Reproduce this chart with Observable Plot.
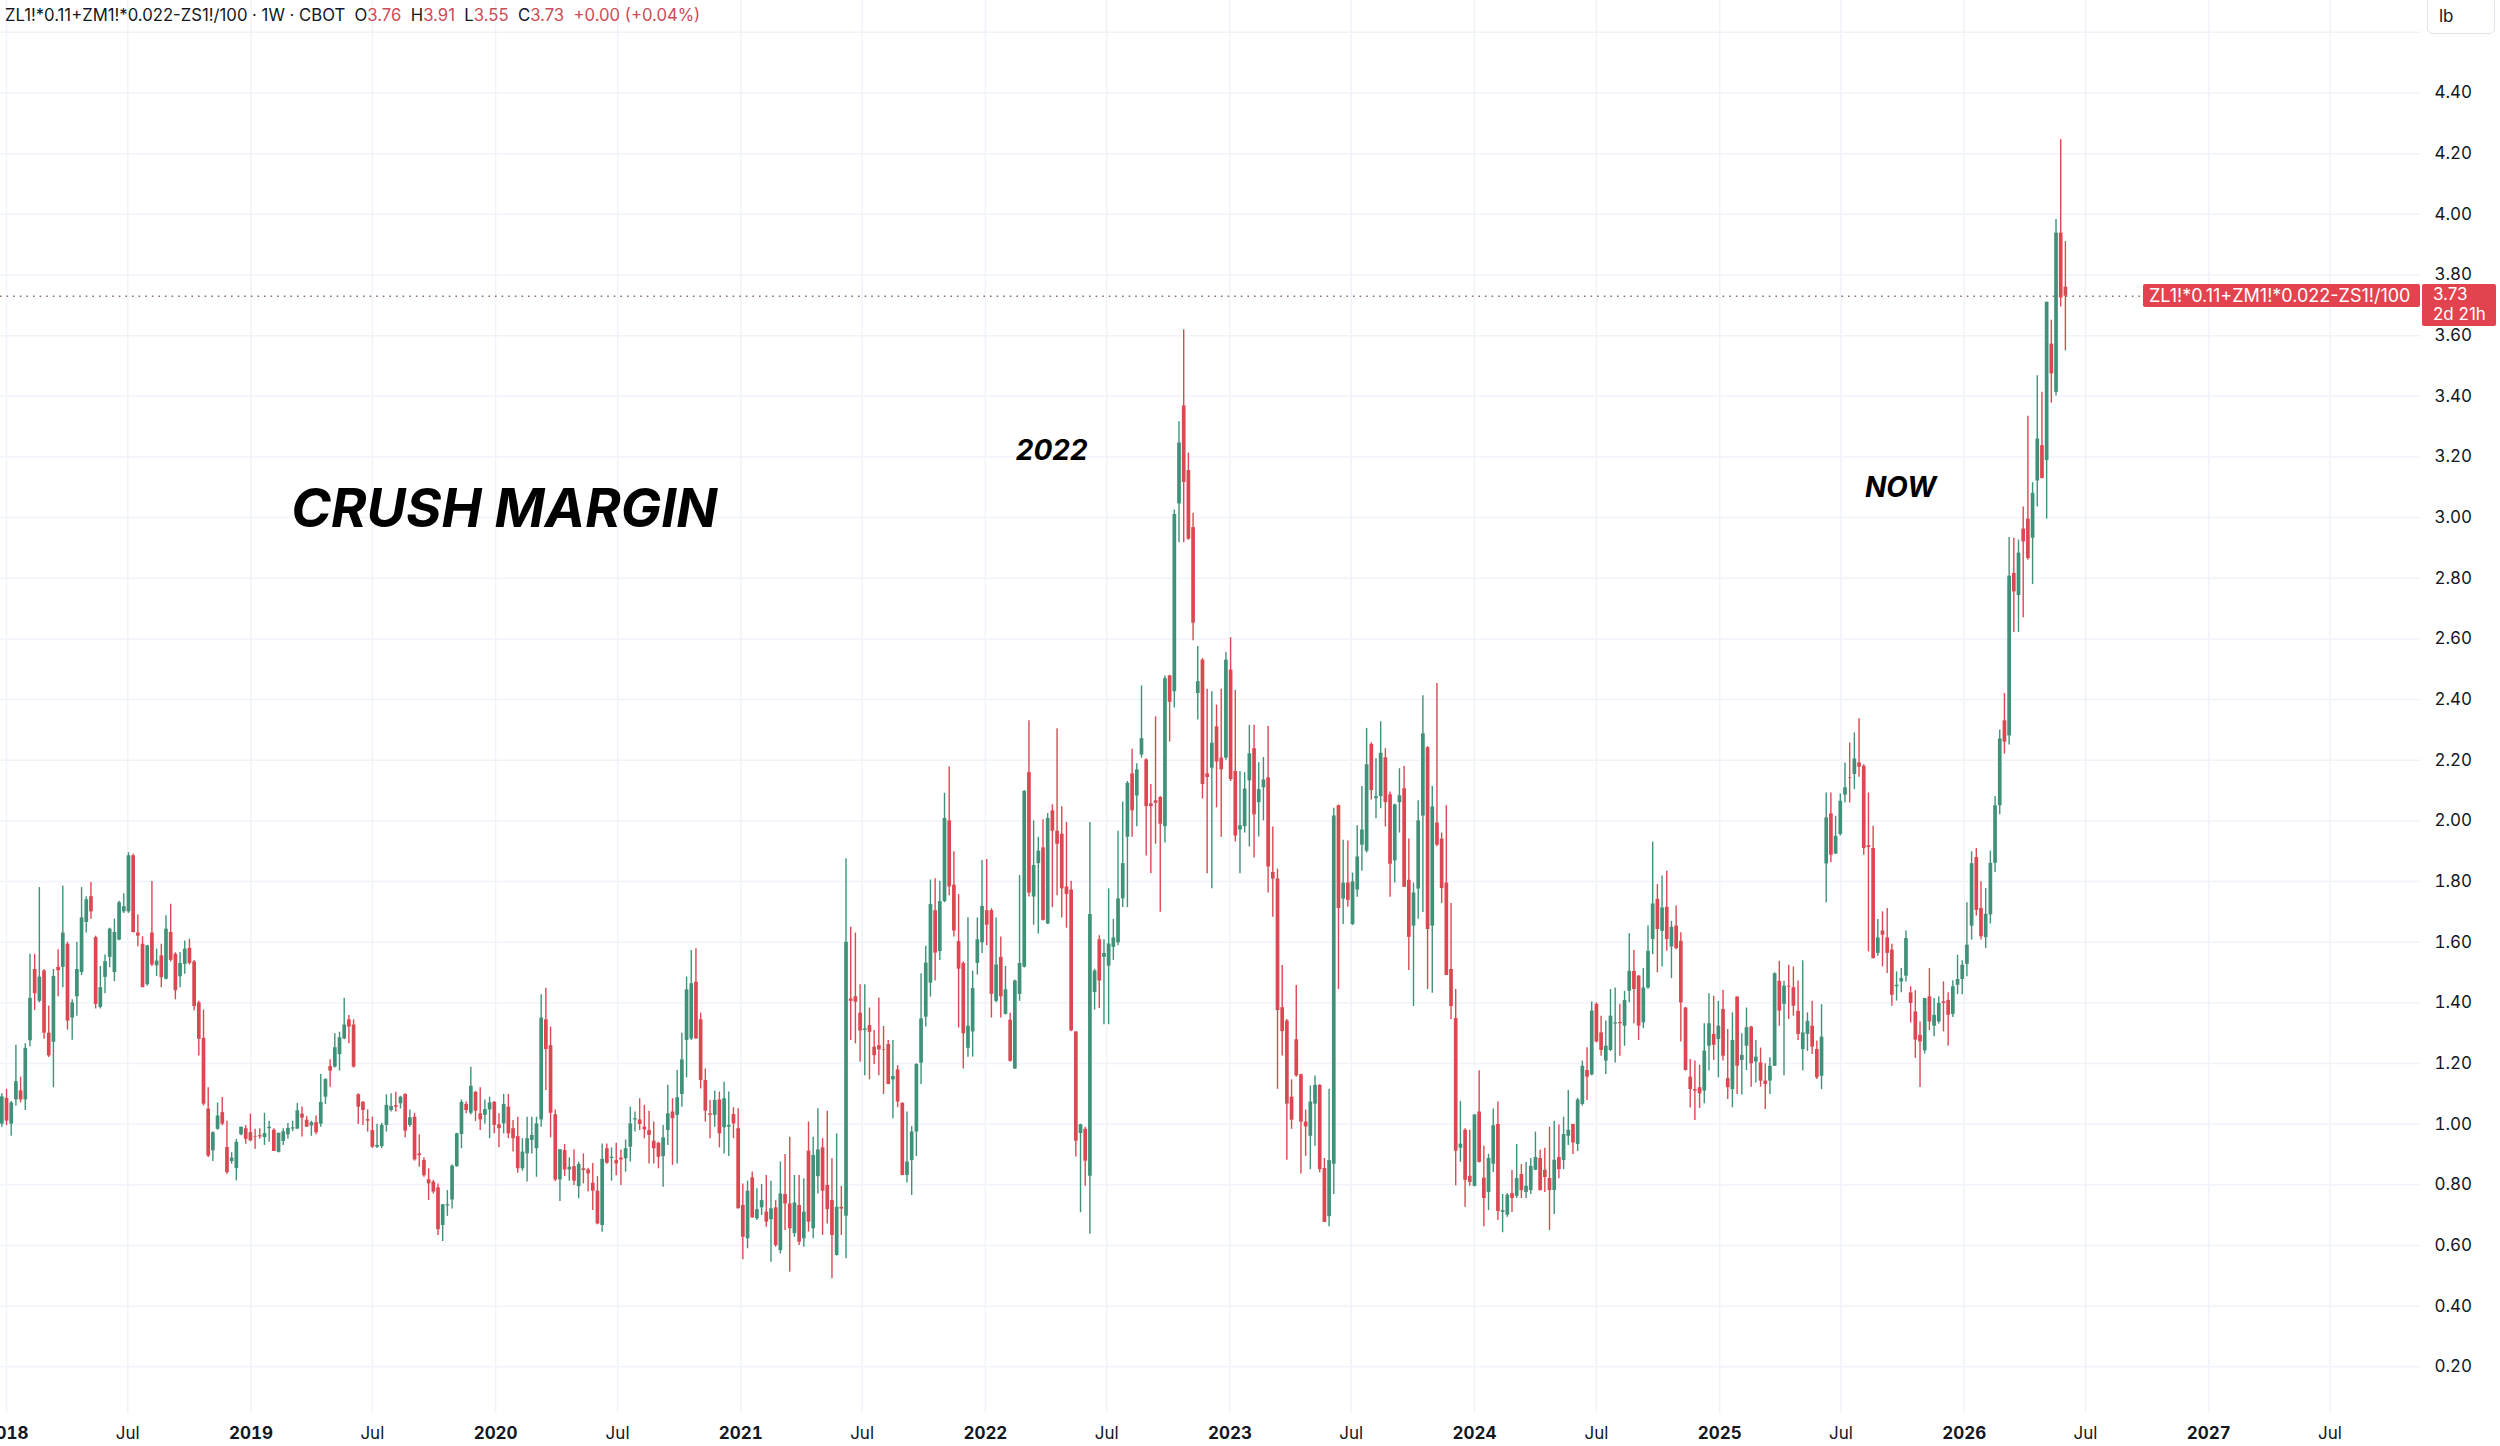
<!DOCTYPE html>
<html>
<head>
<meta charset="utf-8">
<script src="https://cdn.jsdelivr.net/npm/d3@7"></script>
<script src="https://cdn.jsdelivr.net/npm/@observablehq/plot@0.6"></script>
<style>
  html, body { margin: 0; padding: 0; background: #ffffff; }
  #wrap { position: relative; width: 2500px; height: 1446px; overflow: hidden; font-family: Inter, "Noto Sans", sans-serif; color: #131722; }
  #wrap svg { display: block; }
  .hdr { position: absolute; left: 5px; top: 5px; font-size: 16.7px; white-space: pre; color: #131722; }
  .hdr .v { color: #cc4b57; }
  .lbbox { position: absolute; left: 2427px; top: -4px; width: 68px; height: 38px; border: 1px solid #e0e3eb; border-radius: 6px; background: #fff; box-sizing: border-box; }
  .lbbox span { position: absolute; left: 11px; top: 9px; font-size: 17px; }
  .plabel { position: absolute; background: #e3434e; color: #fff; font-size: 17px; border-radius: 2px; box-sizing: border-box; white-space: pre; overflow: hidden; }
</style>
</head>
<body>
<div id="wrap"></div>
<script>
// ---- Data (weekly candles, first bar week of 2017-12-25) ----
const firstWeek = "2017-12-25";
const open = [
1.00,1.085,1.00,1.08,1.11,1.08,1.275,1.51,1.405,1.505,1.30,1.27,1.517,1.517,1.593,1.35,1.42,1.50,1.665,1.75,
1.615,1.385,1.484,1.55,1.50,1.607,1.70,1.70,1.885,1.63,1.593,1.46,1.63,1.522,1.555,1.478,1.632,1.56,1.486,1.527,
1.58,1.535,1.40,1.283,1.05,0.912,0.983,1.038,0.923,0.877,0.854,0.965,0.985,0.972,0.958,0.962,0.956,0.985,0.98,0.907,
0.943,0.965,0.984,0.984,1.033,1.013,0.994,1.005,1.00,1.089,1.19,1.188,1.229,1.281,1.344,1.327,1.097,1.072,1.015,0.979,
0.924,0.926,0.996,1.045,1.061,1.067,1.098,0.996,1.023,0.902,0.88,0.817,0.809,0.79,0.666,0.730,0.75,0.86,0.966,1.065,
1.036,1.105,1.034,1.029,1.047,1.072,0.998,1.001,1.056,0.985,0.959,0.853,0.902,0.946,0.919,1.014,1.344,1.259,1.031,0.816,
0.913,0.849,0.86,0.794,0.853,0.849,0.805,0.779,0.666,0.919,0.887,0.88,0.888,0.886,0.924,1.014,1.014,0.99,0.979,0.944,
0.937,0.893,0.979,1.040,1.029,1.098,1.276,1.281,1.468,1.344,1.144,1.034,1.029,1.08,0.988,0.99,1.032,0.985,0.732,0.622,
0.823,0.688,0.724,0.71,0.685,0.724,0.583,0.768,0.737,0.639,0.732,0.622,0.911,0.655,0.827,0.922,0.798,0.748,0.567,0.726,
0.696,1.413,1.42,1.366,1.309,1.325,1.254,1.259,1.245,1.263,1.146,1.179,1.069,0.831,0.88,0.974,1.201,1.353,1.465,1.704,
1.569,1.734,2.0,1.788,1.602,1.530,1.25,1.304,1.53,1.598,1.704,1.704,1.405,1.55,1.362,1.343,1.182,1.428,1.517,2.159,
1.749,1.859,1.911,1.66,2.033,1.966,1.956,1.782,1.772,1.304,0.969,0.983,0.828,1.434,1.608,1.55,1.521,1.583,1.598,1.743,
1.946,2.155,2.082,2.217,2.201,2.056,2.066,2.077,1.981,2.478,2.426,3.045,3.368,3.155,2.967,2.42,2.53,2.155,2.174,2.31,
2.207,2.207,2.497,2.163,1.97,1.981,2.132,2.238,2.06,2.109,2.142,1.83,1.808,1.384,1.34,1.089,1.278,1.163,1.007,0.96,
1.066,1.128,0.854,0.695,0.868,2.05,1.742,1.795,1.658,1.772,1.92,1.9,2.252,2.073,2.08,2.208,2.086,1.868,2.06,2.106,
1.804,1.653,1.775,2.016,2.241,1.653,1.993,1.94,1.795,1.51,1.348,0.921,0.98,0.828,0.795,1.04,0.822,0.775,0.868,0.999,
0.709,0.70,0.771,0.762,0.834,0.775,0.781,0.848,0.887,0.848,0.821,0.781,0.89,0.88,0.96,0.999,0.933,1.065,1.177,1.162,
1.395,1.301,1.208,1.243,1.33,1.335,1.323,1.438,1.504,1.488,1.334,1.449,1.609,1.741,1.636,1.715,1.584,1.653,1.603,1.383,
1.155,1.114,1.12,1.109,1.257,1.296,1.279,1.378,1.15,1.114,1.419,1.21,1.257,1.32,1.205,1.202,1.142,1.142,1.191,1.471,
1.395,1.455,1.45,1.372,1.246,1.296,1.323,1.246,1.158,1.858,2.023,1.891,1.955,2.085,2.143,2.153,2.191,2.18,1.918,1.909,
1.563,1.637,1.614,1.574,1.453,1.469,1.488,1.433,1.37,1.293,1.242,1.42,1.323,1.337,1.403,1.408,1.362,1.458,1.477,1.527,
1.653,1.879,1.711,1.615,1.69,1.86,2.05,2.33,2.28,2.816,2.743,2.962,2.995,2.932,3.121,3.237,3.188,3.572,3.413,3.938,
3.76
];
const high = [
1.10,1.115,1.075,1.26,1.155,1.265,1.56,1.56,1.78,1.51,1.39,1.51,1.575,1.785,1.60,1.41,1.60,1.78,1.75,1.797,
1.62,1.52,1.558,1.646,1.676,1.735,1.76,1.895,1.89,1.69,1.618,1.59,1.80,1.577,1.593,1.687,1.725,1.565,1.566,1.604,
1.61,1.54,1.405,1.376,1.12,0.975,1.07,1.088,1.01,0.906,0.95,0.99,0.995,1.033,0.983,0.985,1.036,1.01,0.985,0.97,
0.985,1.002,1.01,1.068,1.057,1.026,1.01,1.027,1.164,1.15,1.212,1.298,1.303,1.415,1.358,1.344,1.10,1.075,1.047,1.023,
1.0,1.003,1.097,1.10,1.105,1.092,1.10,1.047,1.036,0.965,0.889,0.853,0.815,0.803,0.735,0.781,0.865,0.97,1.08,1.073,
1.188,1.108,1.12,1.08,1.089,1.075,1.034,1.098,1.098,1.012,1.023,0.952,1.023,1.023,1.023,1.427,1.448,1.32,1.047,0.916,
0.933,0.889,0.916,0.875,0.902,0.855,0.87,0.827,0.935,0.935,0.922,0.937,0.915,0.948,1.056,1.04,1.084,1.062,1.043,1.007,
0.94,0.996,1.128,1.084,1.177,1.30,1.485,1.573,1.578,1.366,1.182,1.078,1.109,1.106,1.138,1.106,1.054,1.051,0.803,0.812,
0.842,0.787,0.801,0.831,0.812,0.748,0.875,0.90,0.957,0.831,0.831,0.82,1.007,0.957,1.051,0.952,1.043,0.886,0.968,0.795,
1.875,1.649,1.63,1.46,1.46,1.383,1.309,1.416,1.322,1.276,1.276,1.193,1.07,1.04,0.992,1.199,1.496,1.587,1.805,1.809,
1.801,2.091,2.178,1.898,1.757,1.535,1.681,1.505,1.68,1.869,1.873,1.71,1.68,1.617,1.52,1.366,1.475,1.82,2.10,2.33,
2.0,1.946,2.004,2.024,2.053,2.304,2.047,1.995,1.801,1.305,1.0,0.99,1.995,1.511,1.621,1.608,1.776,1.675,1.966,2.062,
2.13,2.236,2.188,2.445,2.205,2.12,2.343,2.08,2.478,2.48,3.025,3.316,3.619,3.213,3.014,2.575,2.535,2.434,2.426,2.382,
2.434,2.555,2.604,2.43,2.163,2.159,2.315,2.315,2.192,2.209,2.311,1.98,1.841,1.523,1.345,1.146,1.457,1.165,1.046,1.126,
1.159,1.13,0.887,1.115,2.042,2.052,1.936,1.934,1.828,1.984,2.113,2.305,2.258,2.205,2.327,2.238,2.095,2.055,2.172,2.179,
1.94,1.795,2.066,2.413,2.245,2.113,2.453,1.96,2.05,1.728,1.444,1.075,0.985,0.98,1.032,1.176,0.927,0.901,1.05,1.073,
0.768,0.771,0.847,0.933,0.867,0.874,0.887,0.974,0.914,0.921,0.99,1.01,0.997,1.023,1.111,1.0,1.085,1.208,1.252,1.403,
1.40,1.356,1.34,1.444,1.449,1.395,1.438,1.628,1.573,1.49,1.513,1.653,1.93,1.79,1.818,1.834,1.669,1.719,1.631,1.385,
1.213,1.208,1.194,1.331,1.43,1.422,1.405,1.441,1.312,1.367,1.42,1.298,1.383,1.323,1.276,1.251,1.199,1.219,1.499,1.537,
1.471,1.524,1.518,1.472,1.539,1.367,1.405,1.274,1.394,2.092,2.092,2.015,2.089,2.191,2.257,2.29,2.337,2.185,2.092,1.982,
1.675,1.70,1.711,1.593,1.502,1.513,1.637,1.453,1.44,1.337,1.415,1.513,1.414,1.42,1.469,1.433,1.473,1.557,1.539,1.73,
1.898,1.909,1.799,1.777,1.90,2.08,2.30,2.42,2.934,2.932,2.926,3.035,3.334,3.115,3.468,3.413,3.71,3.651,3.983,4.246,
3.91
];
const low = [
0.99,0.995,0.96,1.06,1.07,1.045,1.255,1.375,1.40,1.28,1.22,1.12,1.42,1.45,1.31,1.277,1.356,1.49,1.63,1.676,
1.38,1.38,1.43,1.516,1.47,1.605,1.695,1.695,1.63,1.585,1.45,1.455,1.52,1.487,1.45,1.475,1.535,1.41,1.45,1.494,
1.525,1.374,1.225,1.06,0.89,0.877,0.98,0.995,0.835,0.868,0.813,0.962,0.934,0.942,0.917,0.95,0.93,0.94,0.91,0.905,
0.93,0.95,0.975,0.982,0.958,0.99,0.96,0.965,0.99,1.065,1.122,1.185,1.175,1.278,1.265,1.185,0.999,0.996,0.974,0.92,
0.92,0.92,0.974,1.04,1.04,1.05,0.955,0.99,0.878,0.858,0.825,0.748,0.77,0.633,0.613,0.696,0.72,0.858,0.919,1.034,
1.03,1.009,0.979,1.0,0.952,0.968,0.922,0.968,0.952,0.908,0.838,0.845,0.809,0.902,0.825,0.99,1.111,0.955,0.81,0.745,
0.827,0.812,0.798,0.754,0.803,0.776,0.715,0.668,0.644,0.868,0.812,0.83,0.798,0.842,0.875,0.974,0.979,0.952,0.869,0.869,
0.853,0.792,0.93,0.864,0.869,1.056,1.153,1.276,1.28,1.116,1.007,0.952,0.99,0.922,0.902,0.893,0.952,0.72,0.553,0.589,
0.69,0.682,0.699,0.66,0.545,0.594,0.572,0.649,0.512,0.627,0.60,0.594,0.644,0.622,0.77,0.633,0.671,0.49,0.565,0.633,
0.556,1.276,1.265,1.204,1.16,1.146,1.197,1.16,1.098,1.13,1.018,1.054,0.83,0.806,0.765,0.893,1.131,1.32,1.419,1.472,
1.54,1.73,1.753,1.617,1.317,1.182,1.221,1.221,1.492,1.563,1.588,1.35,1.40,1.35,1.36,1.205,1.18,1.405,1.515,1.749,
1.656,1.627,1.67,1.658,1.714,1.753,1.68,1.646,1.305,0.892,0.708,0.795,0.637,1.376,1.381,1.328,1.328,1.54,1.588,1.714,
1.714,1.946,1.981,2.207,1.884,1.826,1.923,1.699,1.927,2.26,2.372,2.917,2.917,2.925,2.594,2.333,2.072,1.826,1.776,2.043,
1.946,2.2,2.13,1.93,1.826,1.96,1.914,1.878,1.947,2.0,1.762,1.682,1.115,1.225,0.881,0.983,1.155,0.836,0.894,0.85,
0.927,0.84,0.676,0.662,0.768,1.444,1.658,1.715,1.655,1.748,1.834,1.894,2.069,2.007,2.04,1.98,1.748,1.795,1.96,1.78,
1.507,1.388,1.676,1.698,1.444,1.432,1.915,1.728,1.49,1.344,0.797,0.874,0.726,0.795,0.793,0.872,0.662,0.715,0.841,0.682,
0.642,0.693,0.709,0.755,0.755,0.755,0.768,0.847,0.78,0.775,0.649,0.702,0.82,0.85,0.93,0.9,0.91,1.06,1.078,1.16,
1.268,1.224,1.164,1.24,1.202,1.224,1.257,1.40,1.331,1.276,1.315,1.445,1.559,1.499,1.518,1.57,1.48,1.575,1.271,1.175,
1.053,1.012,1.052,1.067,1.175,1.21,1.153,1.208,1.081,1.054,1.098,1.096,1.177,1.122,1.136,1.122,1.048,1.098,1.19,1.323,
1.16,1.345,1.356,1.276,1.175,1.24,1.23,1.147,1.114,1.73,1.862,1.889,1.95,2.059,2.059,2.103,2.144,1.887,1.568,1.545,
1.554,1.519,1.497,1.389,1.406,1.433,1.469,1.334,1.217,1.121,1.231,1.308,1.288,1.33,1.304,1.257,1.352,1.427,1.427,1.486,
1.607,1.686,1.607,1.579,1.66,1.83,2.02,2.22,2.25,2.621,2.621,2.67,2.859,2.779,3.035,3.127,2.995,3.377,3.401,3.694,
3.55
];
const close = [
1.09,1.01,1.07,1.14,1.08,1.25,1.415,1.43,1.485,1.30,1.225,1.487,1.506,1.63,1.34,1.40,1.51,1.68,1.74,1.70,
1.395,1.45,1.536,1.643,1.632,1.73,1.717,1.885,1.632,1.62,1.45,1.588,1.525,1.538,1.483,1.643,1.54,1.44,1.53,1.577,
1.53,1.388,1.28,1.066,0.895,0.972,1.027,1.00,0.84,0.888,0.94,0.99,0.95,0.945,0.956,0.958,0.969,0.99,0.91,0.97,
0.975,0.986,0.988,1.044,1.02,0.99,1.005,0.972,1.072,1.147,1.175,1.252,1.285,1.327,1.32,1.188,1.056,1.045,1.01,0.924,
0.93,0.996,1.062,1.058,1.056,1.089,0.977,1.021,0.882,0.896,0.83,0.803,0.776,0.652,0.734,0.734,0.862,0.968,1.072,1.045,
1.125,1.043,1.014,1.048,1.07,0.996,0.985,1.065,0.968,0.952,0.853,0.908,0.952,0.963,1.001,1.35,1.246,1.036,0.816,0.916,
0.849,0.858,0.812,0.867,0.847,0.836,0.779,0.671,0.884,0.871,0.891,0.869,0.882,0.919,1.001,1.018,0.999,0.981,0.963,0.919,
0.891,0.955,1.034,1.018,1.087,1.212,1.443,1.463,1.281,1.144,1.043,1.029,1.078,0.968,1.084,0.996,1.001,0.721,0.627,0.779,
0.691,0.718,0.748,0.677,0.721,0.60,0.77,0.737,0.655,0.74,0.611,0.71,0.677,0.897,0.915,0.779,0.718,0.633,0.726,0.72,
1.60,1.405,1.402,1.307,1.314,1.303,1.226,1.245,1.243,1.131,1.157,1.073,0.831,0.875,0.974,1.197,1.347,1.531,1.724,1.564,
1.734,2.008,1.782,1.637,1.511,1.298,1.323,1.447,1.608,1.718,1.656,1.428,1.525,1.42,1.443,1.207,1.472,1.53,2.097,1.762,
1.853,1.90,1.672,2.008,1.966,1.923,1.776,1.757,1.308,0.944,0.998,0.878,1.691,1.505,1.472,1.563,1.594,1.614,1.743,1.859,
2.124,2.033,2.168,2.271,2.047,2.047,2.058,1.989,2.469,2.391,3.01,3.246,3.116,2.929,2.652,2.459,2.12,2.143,2.256,2.194,
2.168,2.53,2.136,1.95,1.984,2.105,2.221,2.02,2.103,2.135,1.848,1.808,1.375,1.305,1.066,1.013,1.159,1.007,0.991,1.073,
1.128,0.85,0.676,0.88,2.016,1.711,1.795,1.738,1.799,1.881,1.97,2.185,2.10,2.08,2.223,2.06,1.857,2.053,2.083,1.781,
1.616,1.762,2.0,2.287,1.642,2.046,1.92,1.777,1.49,1.388,0.911,0.934,0.815,0.808,1.03,0.874,0.755,0.887,0.995,0.712,
0.715,0.766,0.755,0.821,0.781,0.795,0.861,0.89,0.781,0.824,0.781,0.881,0.85,0.966,0.98,0.938,1.08,1.191,1.155,1.373,
1.271,1.243,1.257,1.356,1.334,1.331,1.408,1.504,1.444,1.323,1.449,1.57,1.726,1.642,1.713,1.609,1.649,1.579,1.40,1.177,
1.114,1.109,1.10,1.241,1.331,1.26,1.323,1.224,1.12,1.276,1.191,1.227,1.318,1.199,1.221,1.142,1.131,1.191,1.496,1.373,
1.455,1.452,1.389,1.296,1.301,1.339,1.254,1.153,1.287,2.01,1.887,1.949,2.065,2.109,2.141,2.204,2.177,1.909,1.912,1.546,
1.614,1.623,1.563,1.425,1.458,1.48,1.612,1.398,1.277,1.271,1.414,1.337,1.359,1.398,1.398,1.359,1.453,1.477,1.524,1.59,
1.859,1.705,1.618,1.692,1.86,2.05,2.27,2.26,2.807,2.755,2.883,2.92,2.865,3.08,3.259,3.129,3.71,3.474,3.938,3.724,
3.73
];

// ---- Axes, labels, annotations ----
const yTickValues = [0.20,0.40,0.60,0.80,1.00,1.20,1.40,1.60,1.80,2.00,2.20,2.40,2.60,2.80,3.00,3.20,3.40,3.60,3.80,4.00,4.20,4.40];
const yGridValues = [0.20,0.40,0.60,0.80,1.00,1.20,1.40,1.60,1.80,2.00,2.20,2.40,2.60,2.80,3.00,3.20,3.40,3.60,3.80,4.00,4.20,4.40,4.60];
const yearTicks = ["2018-01-01","2019-01-01","2020-01-01","2021-01-01","2022-01-01","2023-01-01","2024-01-01","2025-01-01","2026-01-01","2027-01-01"];
const julTicks = ["2018-07-01","2019-07-01","2020-07-01","2021-07-01","2022-07-01","2023-07-01","2024-07-01","2025-07-01","2026-07-01","2027-07-01"];
const xDomain = ["2017-12-23","2027-11-13"];
const yDomain = [0.046, 4.705];

const symbolName = "ZL1!*0.11+ZM1!*0.022-ZS1!/100";
const headerParts = [["", symbolName + " · 1W · CBOT  "], ["O", "3.76"], ["H", "3.91"], ["L", "3.55"], ["C", "3.73"], ["", "+0.00 (+0.04%)"]];
const lastPrice = 3.73;
const countdown = "2d 21h";
const unitLabel = "lb";

const bigNote = ["CRUSH MARGIN"];
const bigNoteDate = ["2020-01-14"];
const bigNoteValue = [3.027];
const smallNotes = ["2022", "NOW"];
const smallNoteDates = ["2022-04-10", "2025-09-28"];
const smallNoteValues = [3.218, 3.096];

// ---- Build ----
const upColor = "#3f9279";
const downColor = "#dc4852";
const gridColor = "#f0f3fa";
const start = new Date(firstWeek + "T00:00:00Z");
const candles = open.map((o, i) => ({
  date: d3.utcDay.offset(start, 7 * i),
  open: o, high: high[i], low: low[i], close: close[i]
}));
const colorOf = d => d.close >= d.open ? upColor : downColor;
const toDate = s => new Date(s + "T00:00:00Z");
const years = yearTicks.map(toDate);
const juls = julTicks.map(toDate);
const bigNotes = bigNote.map((t, i) => ({text: t, date: toDate(bigNoteDate[i]), value: bigNoteValue[i]}));
const notes = smallNotes.map((t, i) => ({text: t, date: toDate(smallNoteDates[i]), value: smallNoteValues[i]}));

const W = 2500, H = 1446;
const chart = Plot.plot({
  width: W, height: H,
  marginLeft: 0, marginRight: 80, marginTop: 0, marginBottom: 33,
  x: {type: "utc", domain: xDomain.map(toDate)},
  y: {domain: yDomain},
  style: {fontFamily: "Inter, 'Noto Sans', sans-serif", fontSize: "17px", color: "#131722", background: "#ffffff", overflow: "visible"},
  marks: [
    Plot.gridY(yGridValues, {stroke: gridColor, strokeOpacity: 1, strokeWidth: 1.5}),
    Plot.gridX(years.concat(juls), {stroke: gridColor, strokeOpacity: 1, strokeWidth: 1.5}),
    Plot.ruleY([lastPrice], {stroke: "#8a6e70", strokeWidth: 1.6, strokeDasharray: "1.6,5"}),
    Plot.ruleX(candles, {x: "date", y1: "low", y2: "high", stroke: colorOf, strokeWidth: 1.4}),
    Plot.ruleX(candles, {x: "date", y1: "open", y2: "close", stroke: colorOf, strokeWidth: 3.7}),
    Plot.axisY(yTickValues, {anchor: "right", tickSize: 0, tickPadding: 14, tickFormat: d3.format(".2f"), fontSize: 17, fill: "#131722"}),
    Plot.axisX(years, {anchor: "bottom", tickSize: 0, tickPadding: 13, tickFormat: d3.utcFormat("%Y"), fontSize: 17, fontWeight: "bold", fill: "#131722", label: null}),
    Plot.axisX(juls, {anchor: "bottom", tickSize: 0, tickPadding: 13, tickFormat: () => "Jul", fontSize: 17, fill: "#131722", label: null}),
    Plot.text(bigNotes, {x: "date", y: "value", text: "text", fontSize: 54, fontWeight: "bold", fontStyle: "italic", fill: "#000"}),
    Plot.text(notes, {x: "date", y: "value", text: "text", fontSize: 28, fontWeight: "bold", fontStyle: "italic", fill: "#000"})
  ]
});

const wrap = document.getElementById("wrap");
wrap.appendChild(chart);

// header (overlaid at top-left, like the source chart)
const hdr = document.createElement("div");
hdr.className = "hdr";
headerParts.forEach(([k, v], i) => {
  if (k) hdr.appendChild(document.createTextNode(k));
  const s = document.createElement("span");
  if (i > 0) s.className = "v";
  s.textContent = v + (i > 0 && i < headerParts.length - 1 ? "  " : "");
  hdr.appendChild(s);
});
wrap.appendChild(hdr);

// unit box
const lb = document.createElement("div");
lb.className = "lbbox";
lb.innerHTML = "<span></span>";
lb.firstChild.textContent = unitLabel;
wrap.appendChild(lb);

// last-price labels, positioned by the y scale
const yPos = chart.scale("y").apply(lastPrice);
const nameBox = document.createElement("div");
nameBox.className = "plabel";
nameBox.textContent = symbolName;
Object.assign(nameBox.style, {left: "2143px", top: (yPos - 11.5) + "px", width: "277px", height: "23px", lineHeight: "23px", paddingLeft: "6px", fontSize: "18px"});
wrap.appendChild(nameBox);
const priceBox = document.createElement("div");
priceBox.className = "plabel";
priceBox.textContent = lastPrice.toFixed(2) + "\n" + countdown;
Object.assign(priceBox.style, {left: "2422px", top: (yPos - 11.5) + "px", width: "74px", height: "42px", lineHeight: "19.5px", paddingLeft: "11px", paddingTop: "1px"});
wrap.appendChild(priceBox);
</script>
</body>
</html>
